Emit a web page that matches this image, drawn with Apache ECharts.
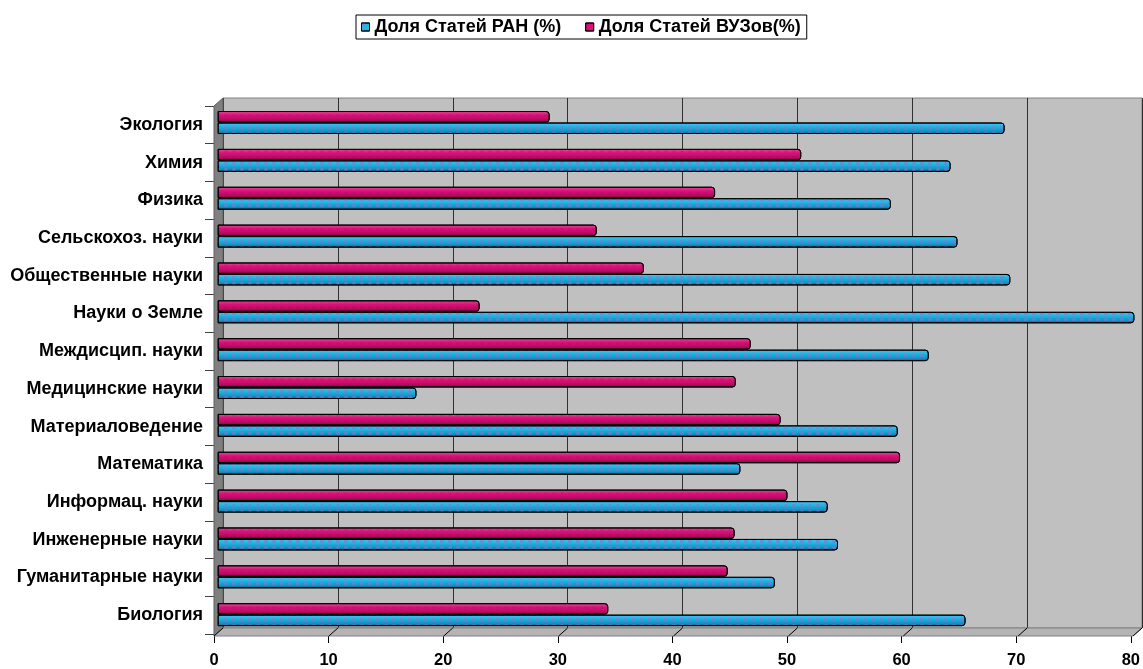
<!DOCTYPE html>
<html>
<head>
<meta charset="utf-8">
<script src="https://cdn.jsdelivr.net/npm/echarts@6/dist/echarts.min.js"></script>
<style>
html,body{margin:0;padding:0;background:#fff;}
#chart{width:1143px;height:669px;}
</style>
</head>
<body>
<div id="chart"></div>
<script>
// ---- data ----
const categories = ['Биология','Гуманитарные науки','Инженерные науки','Информац. науки','Математика','Материаловедение','Медицинские науки','Междисцип. науки','Науки о Земле','Общественные науки','Сельскохоз. науки','Физика','Химия','Экология'];
const seriesNames = ['Доля Статей РАН (%)','Доля Статей ВУЗов(%)'];
const ranValues = [65.1,48.5,54.0,53.1,45.5,59.2,17.3,61.9,79.8,69.0,64.4,58.6,63.8,68.5];
const vuzValues = [34.0,44.4,45.0,49.6,59.4,49.0,45.1,46.4,22.8,37.1,33.0,43.3,50.8,28.9];
const xTicks = [0,10,20,30,40,50,60,70,80];

// ---- layout ----
const W = 1143, H = 669;
const FX0 = 214, FY0 = 106, FX1 = 1133, FY1 = 636; // front box
const DX = 9, DY = -8;                                // 3D depth offset
const unit = (FX1 - FX0) / 80;

const chart = echarts.init(document.getElementById('chart'), null, {renderer:'canvas'});

const graphics = [];
graphics.push({type:'polygon', z:1, shape:{points:[[FX0,FY0],[FX0+DX,FY0+DY],[FX0+DX,FY1+DY],[FX0,FY1]]},
  style:{fill:'#808080', stroke:'#606060', lineWidth:1}});
graphics.push({type:'polygon', z:1, shape:{points:[[FX0,FY1],[FX0+DX,FY1+DY],[FX1+DX,FY1+DY],[FX1,FY1]]},
  style:{fill:'#b4b4b4', stroke:'#808080', lineWidth:1}});
xTicks.forEach(function(t){
  const x = FX0 + t*unit;
  graphics.push({type:'line', z:1, shape:{x1:x, y1:FY1, x2:x+DX, y2:FY1+DY}, style:{stroke:'#000', lineWidth:1}});
});

const blueGrad = new echarts.graphic.LinearGradient(0,0,0,1,[
  {offset:0,color:'#40c8f0'},{offset:0.35,color:'#20b4e4'},{offset:0.75,color:'#1592c0'},{offset:1,color:'#0a6080'}]);
const pinkGrad = new echarts.graphic.LinearGradient(0,0,0,1,[
  {offset:0,color:'#e84c9c'},{offset:0.35,color:'#d8137a'},{offset:0.75,color:'#b80a62'},{offset:1,color:'#7a0040'}]);

const FS = 18;
const option = {
  animation:false,
  backgroundColor:'#fff',
  textStyle:{fontFamily:'Liberation Sans, Arial, sans-serif'},
  legend:{
    left:356, top:15,
    padding:[3,6,3,5],
    itemGap:24, itemWidth:8, itemHeight:8,
    borderColor:'#000', borderWidth:1, backgroundColor:'#fff',
    icon:'rect',
    textStyle:{fontSize:FS, fontWeight:'bold', color:'#000'},
    data:[
      {name:seriesNames[0], itemStyle:{color:'#20b8e8', borderColor:'#000', borderWidth:1}},
      {name:seriesNames[1], itemStyle:{color:'#e0107a', borderColor:'#000', borderWidth:1}}
    ]
  },
  graphic:graphics,
  grid:[
    {left:FX0+DX, top:FY0+DY, right:W-(FX1+DX), bottom:H-(FY1+DY), show:true, backgroundColor:'#c0c0c0', borderColor:'#808080', borderWidth:1, z:0},
    {left:FX0, top:FY0, right:W-FX1, bottom:H-FY1, z:3},
    {left:217.7, top:103.6, right:W-(217.7+80*unit), bottom:H-(103.6+(FY1-FY0)), z:2}
  ],
  xAxis:[
    {gridIndex:0, type:'value', min:0, max:80, interval:10, axisLine:{show:false}, axisTick:{show:false}, axisLabel:{show:false},
     splitLine:{show:true, lineStyle:{color:'#303030', width:1}}},
    {gridIndex:1, type:'value', min:0, max:80, interval:10,
     axisLine:{show:true, lineStyle:{color:'#000', width:1}},
     axisTick:{show:true, length:9, lineStyle:{color:'#000'}},
     axisLabel:{show:true, color:'#000', fontSize:16.5, fontWeight:'bold', margin:18},
     splitLine:{show:false}},
    {gridIndex:2, type:'value', min:0, max:80, show:false}
  ],
  yAxis:[
    {gridIndex:0, type:'category', data:categories, show:false},
    {gridIndex:1, type:'category', data:categories,
     axisLine:{show:false},
     axisTick:{show:true, length:9, lineStyle:{color:'#404040'}},
     axisLabel:{color:'#000', fontSize:FS, fontWeight:'bold', margin:11, padding:[4,0,0,0]},
     splitLine:{show:false}},
    {gridIndex:2, type:'category', data:categories, show:false}
  ],
  series:[
    {name:seriesNames[1], type:'bar', xAxisIndex:2, yAxisIndex:2, data:vuzValues,
     barWidth:11.5, barGap:'0%',
     itemStyle:{color:pinkGrad, borderColor:'#000', borderWidth:1, borderRadius:[0,3,3,0],
       decal:{symbol:'rect', symbolSize:0.7, color:'rgba(140,20,80,0.25)', dashArrayX:[[4,4]], dashArrayY:[3,3]}}},
    {name:seriesNames[0], type:'bar', xAxisIndex:2, yAxisIndex:2, data:ranValues,
     barWidth:11.5, barGap:'0%',
     itemStyle:{color:blueGrad, borderColor:'#000', borderWidth:1, borderRadius:[0,3,3,0],
       decal:{symbol:'rect', symbolSize:0.8, color:'rgba(150,110,210,0.75)', dashArrayX:[[4,4]], dashArrayY:[3,3]}}}
  ]
};
chart.setOption(option);
</script>
</body>
</html>
